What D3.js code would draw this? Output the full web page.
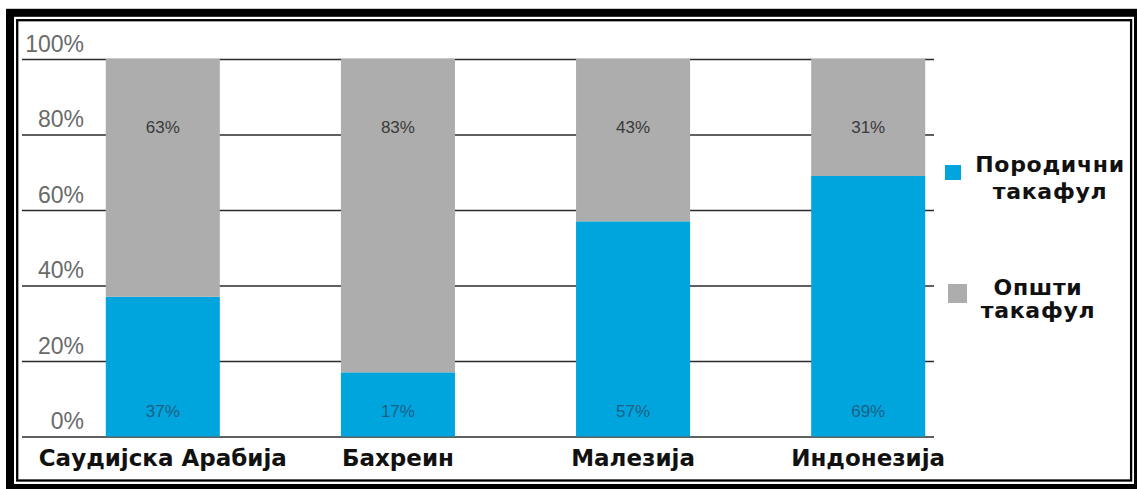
<!DOCTYPE html>
<html>
<head>
<meta charset="utf-8">
<script src="https://cdn.jsdelivr.net/npm/d3@7"></script>
<style>
  html, body { margin: 0; padding: 0; background: #fff; }
  svg { display: block; }
</style>
</head>
<body>
<div id="chart"></div>
<script>
// data (share of takaful contributions, %)
const countries = ["Саудијска Арабија", "Бахреин", "Малезија", "Индонезија"];
const familyTakaful = [37, 17, 57, 69];
const generalTakaful = [63, 83, 43, 31];
const yTicks = [0, 20, 40, 60, 80, 100];
const seriesNames = ["Породични такафул", "Општи такафул"];

const width = 1137;
const height = 489;
const blue = "#00a5de";
const grey = "#adadad";

const rows = countries.map((c, i) => ({
  country: c,
  family: familyTakaful[i],
  general: generalTakaful[i],
}));

const svg = d3
  .select("#chart")
  .append("svg")
  .attr("width", width)
  .attr("height", height)
  .attr("viewBox", [0, 0, width, height]);

svg.append("rect").attr("width", width).attr("height", height).attr("fill", "#fff");

const x = d3
  .scaleBand()
  .domain(countries)
  .range([47, 984])
  .paddingInner(0.515)
  .paddingOuter(0.25);

const y = d3.scaleLinear().domain([0, 100]).range([436.5, 59]);

// gridlines + tick labels sitting above each line
const gridLeft = 22;
const gridRight = 934;
const yAxis = svg
  .append("g")
  .attr("transform", `translate(${gridLeft},0)`)
  .call(
    d3
      .axisLeft(y)
      .tickValues(yTicks)
      .tickSize(-(gridRight - gridLeft))
      .tickFormat((d) => d + "%"),
  );
yAxis.select(".domain").remove();
yAxis.selectAll(".tick line").attr("stroke", "#2b2b2b").attr("stroke-width", 1.6);
yAxis
  .selectAll(".tick text")
  .attr("x", 62)
  .attr("dy", -8)
  .attr("text-anchor", "end")
  .attr("font-family", "'Liberation Sans', Arial, sans-serif")
  .attr("font-size", 23)
  .attr("fill", "#6a6a6a");

// stacked bars
const stack = d3.stack().keys(["family", "general"]);
const layers = stack(rows);
const colors = { family: blue, general: grey };

svg
  .append("g")
  .selectAll("g")
  .data(layers)
  .join("g")
  .attr("fill", (d) => colors[d.key])
  .selectAll("rect")
  .data((d) => d)
  .join("rect")
  .attr("x", (d) => x(d.data.country))
  .attr("y", (d) => y(d[1]))
  .attr("width", x.bandwidth())
  .attr("height", (d) => y(d[0]) - y(d[1]));

// value labels
const valueFont = "'Liberation Sans', Arial, sans-serif";
const labels = svg.append("g").attr("font-family", valueFont).attr("font-size", 17).attr("text-anchor", "middle");
labels
  .selectAll(".lab-general")
  .data(rows)
  .join("text")
  .attr("class", "lab-general")
  .attr("x", (d) => x(d.country) + x.bandwidth() / 2)
  .attr("y", 133)
  .attr("fill", "#3a3a3a")
  .text((d) => d.general + "%");
labels
  .selectAll(".lab-family")
  .data(rows)
  .join("text")
  .attr("class", "lab-family")
  .attr("x", (d) => x(d.country) + x.bandwidth() / 2)
  .attr("y", 417)
  .attr("fill", "#1d5f86")
  .text((d) => d.family + "%");

// category labels
svg
  .append("g")
  .selectAll("text")
  .data(countries)
  .join("text")
  .attr("x", (d) => x(d) + x.bandwidth() / 2)
  .attr("y", 466)
  .attr("text-anchor", "middle")
  .attr("font-family", "'DejaVu Sans', Verdana, sans-serif")
  .attr("font-weight", "bold")
  .attr("font-size", 23)
  .attr("fill", "#111")
  .text((d) => d);

// legend
const legend = [
  { name: seriesNames[0], color: blue, sq: [945, 165, 16, 15], cx: 1050, y0: 172, lh: 27 },
  { name: seriesNames[1], color: grey, sq: [948, 284, 19, 19], cx: 1038, y0: 295, lh: 23 },
];
const lg = svg.append("g");
legend.forEach((l) => {
  lg.append("rect")
    .attr("x", l.sq[0])
    .attr("y", l.sq[1])
    .attr("width", l.sq[2])
    .attr("height", l.sq[3])
    .attr("fill", l.color);
  const t = lg
    .append("text")
    .attr("text-anchor", "middle")
    .attr("font-family", "'DejaVu Sans', Verdana, sans-serif")
    .attr("font-weight", "bold")
    .attr("font-size", 22)
    .attr("letter-spacing", 0.7)
    .attr("fill", "#111");
  l.name.split(" ").forEach((w, i) => {
    t.append("tspan")
      .attr("x", l.cx)
      .attr("y", l.y0 + i * l.lh)
      .text(w);
  });
});

// double frame
svg
  .append("rect")
  .attr("x", 10)
  .attr("y", 12.8)
  .attr("width", 1128)
  .attr("height", 475.2)
  .attr("fill", "none")
  .attr("stroke", "#000")
  .attr("stroke-width", 8);
svg
  .append("rect")
  .attr("x", 17.2)
  .attr("y", 20.2)
  .attr("width", 1113.9)
  .attr("height", 460.3)
  .attr("fill", "none")
  .attr("stroke", "#000")
  .attr("stroke-width", 2.3);
</script>
</body>
</html>
